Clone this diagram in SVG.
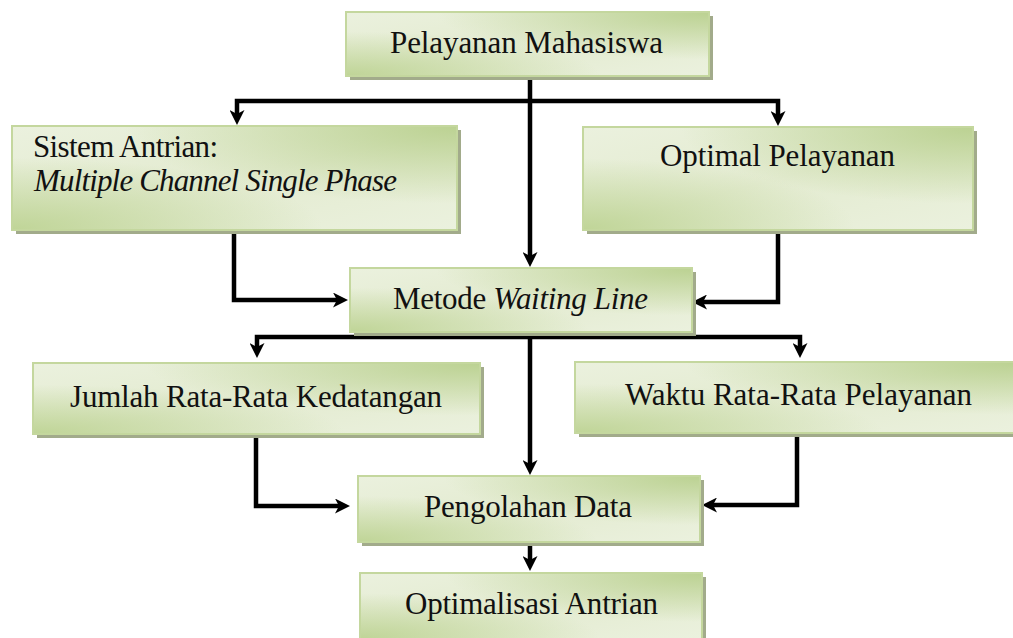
<svg xmlns="http://www.w3.org/2000/svg" width="1013" height="638" viewBox="0 0 1013 638">
<style>
.shadow{fill:#a2ab8b}
.box{fill:url(#base);stroke:#c4d79e;stroke-width:2}
.ov1{fill:url(#tr)}
.ov2{fill:url(#bl)}
.t{font-family:"Liberation Serif","Times New Roman",serif;font-size:31px;fill:#111}
.i{font-style:italic}
.c{fill:none;stroke:#000;stroke-width:4.5;stroke-linejoin:miter;marker-end:url(#arr)}
</style>
<defs>
<linearGradient id="base" x1="0" y1="0" x2="1" y2="1">
<stop offset="0" stop-color="#ebf1de"/>
<stop offset="0.5" stop-color="#e3ebd0"/>
<stop offset="1" stop-color="#ebf1de"/>
</linearGradient>
<radialGradient id="tr" cx="1" cy="0" r="0.75">
<stop offset="0" stop-color="#bcd293" stop-opacity="1"/>
<stop offset="1" stop-color="#bcd293" stop-opacity="0"/>
</radialGradient>
<radialGradient id="bl" cx="0" cy="1" r="0.7">
<stop offset="0" stop-color="#c0d598" stop-opacity="1"/>
<stop offset="1" stop-color="#c0d598" stop-opacity="0"/>
</radialGradient>
<marker id="arr" viewBox="0 0 15 15" refX="4" refY="7.5" markerWidth="15" markerHeight="15" markerUnits="userSpaceOnUse" orient="auto">
<path d="M0,0 L15,7.5 L0,15 L4,7.5 Z" fill="#000"/>
</marker>
</defs>

<g id="connectors">
<path class="c" d="M530,76 V256"/>
<path class="c" d="M530,101 H237 V114"/>
<path class="c" d="M530,101 H778 V115"/>
<path class="c" d="M234,230 V300 H337"/>
<path class="c" d="M778,230 V302 H703"/>
<path class="c" d="M530,332 V464"/>
<path class="c" d="M530,337 H257 V347"/>
<path class="c" d="M530,337 H800 V347"/>
<path class="c" d="M256,434 V506 H339"/>
<path class="c" d="M797,433 V505 H713"/>
<path class="c" d="M530,542 V560"/>
</g>

<g id="n1">
<rect class="shadow" x="350" y="16" width="363" height="64"/>
<rect class="box" x="346" y="12" width="363" height="64"/>
<rect class="ov1" x="347" y="13" width="361" height="62"/>
<rect class="ov2" x="347" y="13" width="361" height="62"/>
<text class="t" x="390" y="53" textLength="273">Pelayanan Mahasiswa</text>
</g>

<g id="n2">
<rect class="shadow" x="16" y="130" width="445" height="104"/>
<rect class="box" x="12" y="126" width="445" height="104"/>
<rect class="ov1" x="13" y="127" width="443" height="102"/>
<rect class="ov2" x="13" y="127" width="443" height="102"/>
<text class="t" x="33" y="157" textLength="185">Sistem Antrian:</text>
<text class="t i" x="34" y="191" textLength="363">Multiple Channel Single Phase</text>
</g>

<g id="n3">
<rect class="shadow" x="587" y="131" width="390" height="103"/>
<rect class="box" x="583" y="127" width="390" height="103"/>
<rect class="ov1" x="584" y="128" width="388" height="101"/>
<rect class="ov2" x="584" y="128" width="388" height="101"/>
<text class="t" x="660" y="166" textLength="235">Optimal Pelayanan</text>
</g>

<g id="n4">
<rect class="shadow" x="354" y="272" width="342" height="64"/>
<rect class="box" x="350" y="268" width="342" height="64"/>
<rect class="ov1" x="351" y="269" width="340" height="62"/>
<rect class="ov2" x="351" y="269" width="340" height="62"/>
<text class="t" x="393" y="309" textLength="255">Metode <tspan class="i">Waiting Line</tspan></text>
</g>

<g id="n5">
<rect class="shadow" x="37" y="367" width="447" height="71"/>
<rect class="box" x="33" y="363" width="447" height="71"/>
<rect class="ov1" x="34" y="364" width="445" height="69"/>
<rect class="ov2" x="34" y="364" width="445" height="69"/>
<text class="t" x="70" y="407" textLength="372">Jumlah Rata-Rata Kedatangan</text>
</g>

<g id="n6">
<rect class="shadow" x="579" y="366" width="440" height="71"/>
<rect class="box" x="575" y="362" width="440" height="71"/>
<rect class="ov1" x="576" y="363" width="438" height="69"/>
<rect class="ov2" x="576" y="363" width="438" height="69"/>
<text class="t" x="625" y="405" textLength="347">Waktu Rata-Rata Pelayanan</text>
</g>

<g id="n7">
<rect class="shadow" x="362" y="480" width="342" height="66"/>
<rect class="box" x="358" y="476" width="342" height="66"/>
<rect class="ov1" x="359" y="477" width="340" height="64"/>
<rect class="ov2" x="359" y="477" width="340" height="64"/>
<text class="t" x="424" y="517" textLength="208">Pengolahan Data</text>
</g>

<g id="n8">
<rect class="shadow" x="364" y="577" width="342" height="66"/>
<rect class="box" x="360" y="573" width="342" height="66"/>
<rect class="ov1" x="361" y="574" width="340" height="64"/>
<rect class="ov2" x="361" y="574" width="340" height="64"/>
<text class="t" x="405" y="614" textLength="253">Optimalisasi Antrian</text>
</g>
</svg>
